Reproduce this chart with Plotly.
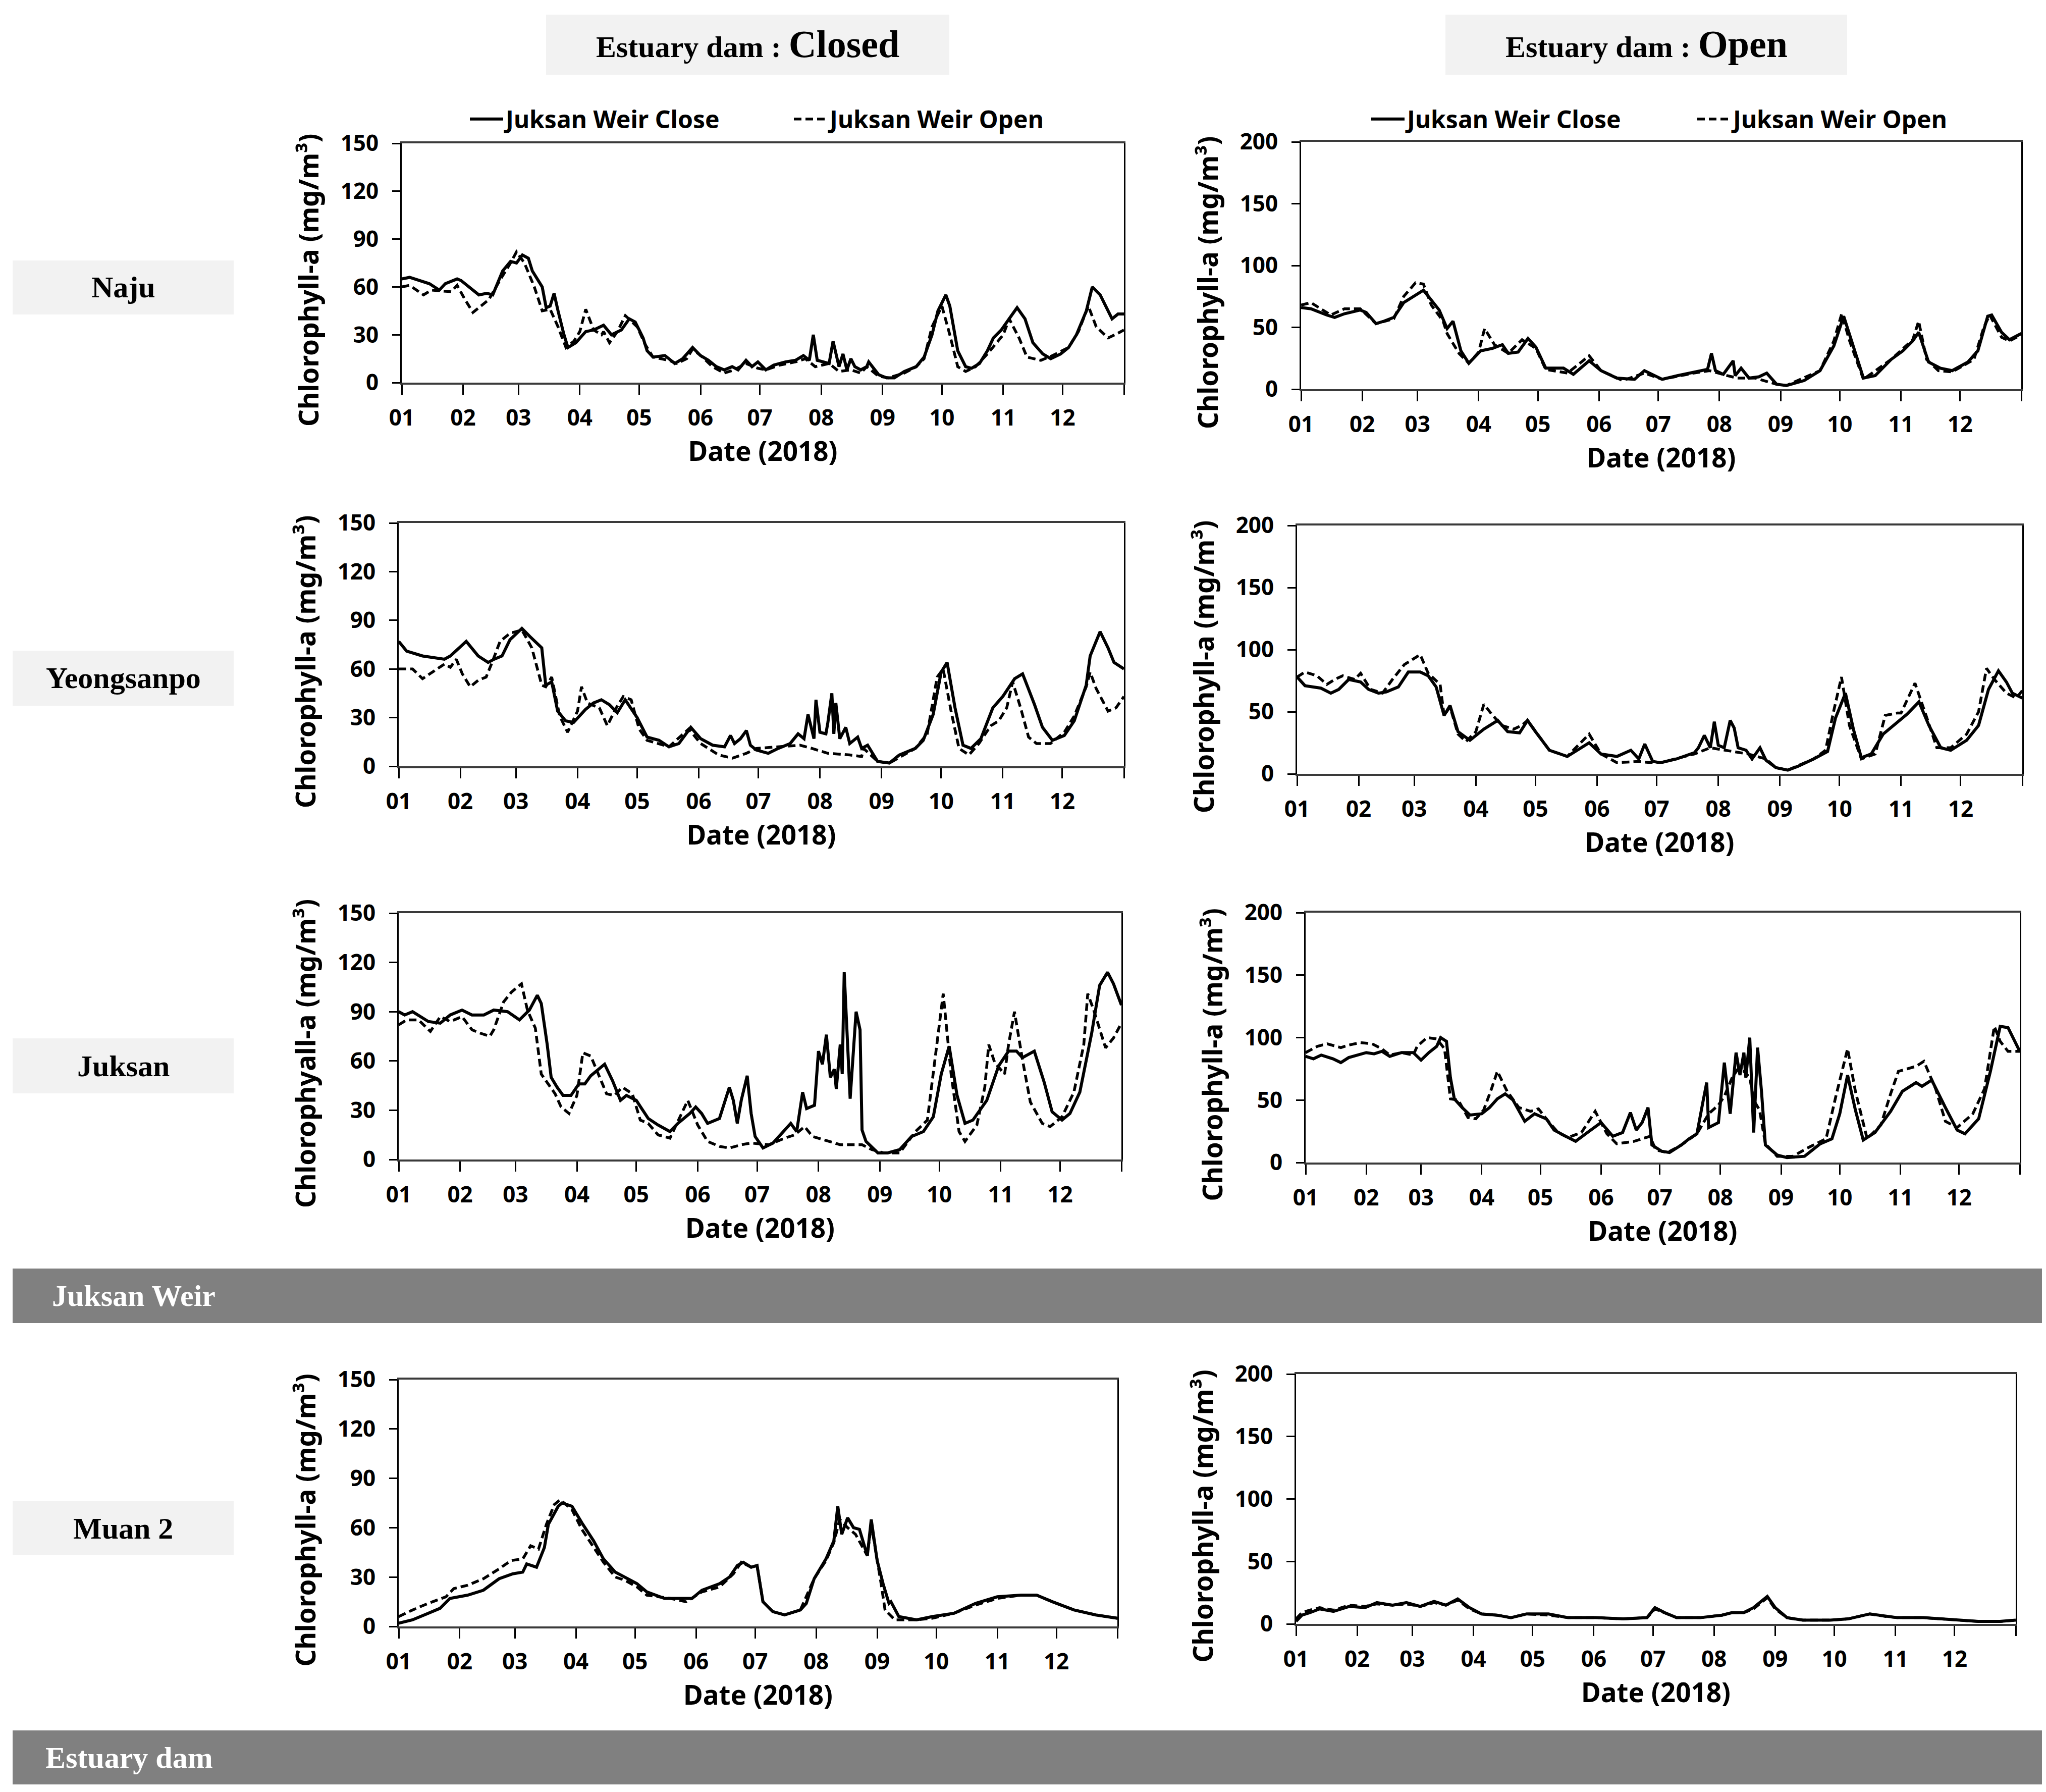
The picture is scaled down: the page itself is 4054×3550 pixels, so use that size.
import pandas as pd
import plotly.graph_objects as go

W, H = 4054, 3550

# ---------------- data (day of year 2018, chlorophyll-a mg/m3) ----------------
NAJU_DC_CLOSE_DAY = [0,4,14,19,22,28,30,39,43,46,51,55,58,61,64,66,71,73,75,77,79,82,84,88,93,97,102,106,111,115,118,122,124,127,133,135,138,142,147,151,155,159,163,167,170,174,177,180,184,188,194,199,203,206,208,210,216,218,221,223,225,227,229,232,235,236,241,245,249,254,260,264,268,271,275,277,281,285,288,292,296,299,303,307,311,315,319,324,328,333,337,341,346,349,353,357,359,362,365]
NAJU_DC_CLOSE_VAL = [65,66,62,58,62,65,64,55,56,55,70,76,75,80,78,70,60,47,48,56,45,30,22,25,32,33,36,30,33,40,38,28,20,16,17,15,12,15,22,17,14,10,8,10,8,14,10,13,8,11,13,14,17,14,30,14,12,26,10,18,8,15,10,8,10,13,5,3,3,7,10,16,30,45,55,48,20,10,9,12,20,28,33,40,47,40,25,18,15,18,22,30,45,60,55,45,40,43,43]
NAJU_DC_OPEN_DAY = [0,4,11,15,25,28,32,36,40,44,50,55,58,62,67,71,75,79,83,87,90,93,97,101,102,105,109,113,119,123,127,135,139,144,147,152,157,163,168,174,180,184,191,199,204,209,216,221,227,232,235,241,246,254,260,264,268,273,277,281,285,290,296,300,304,307,312,316,323,329,337,342,347,351,357,362,365]
NAJU_DC_OPEN_VAL = [60,61,55,58,57,61,52,44,48,52,65,75,82,75,60,45,46,35,22,26,32,46,33,30,32,25,32,42,35,24,16,14,12,15,21,16,10,6,8,12,9,8,11,13,15,10,12,7,8,6,10,4,3,6,10,15,35,48,30,10,7,10,18,24,30,40,28,16,14,17,22,32,48,35,28,31,33]

NAJU_DO_CLOSE_DAY = [0,5,13,17,22,30,33,38,42,47,52,58,62,65,70,74,77,81,85,91,97,102,105,110,115,119,124,133,138,146,152,160,169,174,183,191,199,206,208,210,214,219,220,223,227,232,236,241,246,255,263,270,275,280,285,291,299,305,310,313,318,324,330,338,343,348,350,355,359,365]
NAJU_DO_CLOSE_VAL = [66,65,60,58,61,64,62,53,55,58,70,76,80,74,64,49,55,31,21,31,33,36,29,30,41,34,17,17,12,23,15,9,8,15,8,11,14,16,29,15,12,23,11,17,9,10,13,4,3,7,15,35,59,33,9,11,24,31,39,46,22,17,15,22,31,59,60,46,40,45]
NAJU_DO_OPEN_DAY = [0,5,15,22,30,38,47,52,58,62,66,72,74,80,85,90,93,98,105,112,119,124,135,146,152,163,174,183,199,207,216,221,230,241,246,263,270,274,278,285,299,310,313,317,323,330,341,346,349,355,359,365]
NAJU_DO_OPEN_VAL = [68,70,60,65,65,53,57,75,86,85,68,55,45,29,21,30,49,36,29,40,33,16,13,27,15,7,13,8,13,15,11,9,9,4,3,15,39,61,39,8,24,40,55,24,15,14,24,50,60,42,39,44]

YSP_DC_CLOSE_DAY = [0,4,12,18,23,26,32,34,40,45,48,52,56,62,66,72,74,77,80,84,88,94,98,102,106,110,114,120,125,131,136,141,147,152,158,164,167,169,172,175,177,180,186,191,197,201,204,206,209,210,212,215,216,218,219,220,222,225,227,231,233,236,241,247,252,260,264,269,273,276,280,284,288,293,299,304,310,314,320,324,329,335,340,346,348,353,357,360,365]
YSP_DC_CLOSE_VAL = [77,71,68,67,66,68,75,77,68,64,66,68,78,85,80,73,50,52,34,28,27,35,39,41,38,33,41,30,18,16,12,14,24,17,13,12,19,14,17,22,13,10,8,11,14,20,17,32,17,41,21,20,27,45,20,39,17,24,14,18,11,13,3,2,7,11,16,32,58,64,36,13,11,17,36,43,54,57,38,24,16,19,28,50,68,83,73,64,60]
YSP_DC_OPEN_DAY = [0,7,12,18,23,26,29,32,36,40,44,47,51,56,62,67,72,74,77,81,85,90,92,95,101,105,109,113,117,121,125,136,146,152,161,168,175,180,191,202,208,216,227,233,234,241,247,260,266,271,274,278,282,287,292,298,302,306,309,313,317,321,328,335,340,346,348,351,357,361,365]
YSP_DC_OPEN_VAL = [60,60,54,59,63,61,66,57,49,53,55,64,77,82,84,73,50,49,55,31,21,34,49,39,36,25,35,43,41,23,16,12,23,14,7,5,8,11,12,13,11,8,7,6,11,3,2,11,20,55,60,34,11,7,14,25,28,36,52,36,18,14,14,21,31,49,58,48,34,36,43]

YSP_DO_CLOSE_DAY = [0,4,12,17,21,26,32,36,41,45,51,56,62,66,70,74,77,81,87,94,101,106,112,116,120,127,136,147,153,161,168,172,175,179,183,191,200,202,205,208,210,212,215,218,220,222,226,229,233,236,241,247,252,260,267,271,276,280,284,289,295,302,307,313,318,324,329,337,343,348,353,357,360,365]
YSP_DO_CLOSE_VAL = [78,71,69,65,68,76,74,68,65,66,70,82,82,79,70,47,55,34,27,36,43,34,33,43,34,19,14,25,16,14,19,12,24,10,9,12,17,21,31,21,42,23,21,43,37,21,19,12,21,11,5,3,6,12,18,45,65,36,13,16,32,41,48,58,39,21,19,27,39,68,83,74,65,61]
YSP_DO_OPEN_DAY = [0,4,10,15,19,23,29,32,37,43,48,54,62,66,72,74,77,81,85,90,94,98,103,109,113,116,121,127,136,147,153,161,172,178,183,200,208,216,227,236,241,247,260,266,270,274,278,284,291,296,302,304,311,317,322,329,337,343,347,351,357,362,365]
YSP_DO_OPEN_VAL = [78,82,79,72,76,79,76,81,68,65,76,88,96,81,72,47,54,32,26,34,56,48,39,36,39,43,32,19,14,32,16,9,10,9,9,16,21,19,16,12,5,3,12,19,50,78,39,12,16,47,49,49,73,45,21,21,32,50,85,76,65,61,67]

JUK_DC_CLOSE_DAY = [0,3,7,15,21,26,32,37,43,48,55,61,66,70,72,75,77,80,83,87,91,94,97,101,104,108,112,115,120,126,131,137,141,147,150,153,156,162,165,167,169,171,173,176,178,180,184,189,195,198,201,204,206,210,212,214,216,217,218,220,221,223,224,225,227,228,231,233,234,236,242,247,253,259,265,270,274,278,282,286,290,297,303,308,312,315,321,326,330,335,339,344,350,354,358,361,365]
JUK_DC_CLOSE_VAL = [90,88,90,84,83,88,91,88,88,91,90,85,91,100,95,70,50,44,39,39,46,46,51,55,58,48,36,39,36,25,21,17,22,28,32,28,22,25,36,44,36,22,36,51,28,14,7,10,18,22,17,41,31,33,66,58,76,61,50,55,43,70,52,114,63,37,90,79,18,11,4,4,6,14,17,26,52,69,39,22,24,36,57,66,66,62,66,47,29,24,28,41,77,106,114,107,94]
JUK_DC_OPEN_DAY = [0,4,10,16,21,26,32,37,41,46,48,53,57,62,65,69,72,75,79,82,86,90,93,97,101,105,109,113,118,122,126,131,137,142,146,151,156,162,167,173,178,187,195,200,205,209,217,223,228,234,239,245,253,261,267,271,275,279,283,286,292,296,298,301,306,308,311,315,319,325,329,335,341,346,348,351,357,361,365]
JUK_DC_OPEN_VAL = [82,85,85,78,87,84,87,79,77,75,79,96,102,107,91,80,52,47,40,32,28,39,65,63,52,40,39,44,40,24,22,15,13,26,36,21,11,8,7,9,10,9,13,15,20,14,11,9,9,9,6,4,4,17,24,63,101,52,17,11,21,44,70,59,52,70,90,61,35,22,20,26,41,70,101,91,68,74,83]

JUK_DO_CLOSE_DAY = [0,4,8,14,18,22,31,35,39,43,49,55,59,63,67,69,72,74,76,80,84,90,94,98,102,106,112,117,123,127,133,138,144,151,157,162,166,169,172,175,177,182,186,192,196,200,203,205,206,211,214,217,220,222,224,225,227,229,231,233,235,241,246,255,263,269,273,277,281,285,291,299,305,312,315,320,327,333,337,344,350,355,359,365]
JUK_DO_CLOSE_VAL = [85,83,86,83,80,84,88,87,89,85,88,88,82,88,93,100,97,68,51,44,38,39,44,51,55,50,33,39,35,26,21,17,24,32,21,24,40,26,32,44,14,9,8,14,19,23,48,64,28,32,80,39,88,70,88,68,100,24,92,57,14,6,4,5,15,19,39,70,42,18,24,41,57,64,61,66,44,26,23,35,73,109,108,89]
JUK_DO_OPEN_DAY = [0,6,11,18,22,28,34,39,43,49,55,57,62,67,71,74,78,83,87,91,95,98,103,109,115,119,123,129,134,141,148,154,159,168,176,179,185,192,200,206,211,214,218,221,224,227,229,232,235,241,249,257,266,271,277,281,287,294,299,303,312,316,322,327,333,341,347,352,355,359,365]
JUK_DO_OPEN_VAL = [88,93,95,92,94,96,95,91,86,88,86,93,100,99,91,51,50,36,35,42,59,73,57,44,41,43,35,24,20,24,41,23,15,17,21,10,8,14,23,39,46,53,68,75,73,68,50,42,15,5,5,12,19,53,91,57,19,30,55,73,77,81,59,33,28,39,59,109,97,89,89]

MUAN_DC_CLOSE_DAY = [0,7,15,21,26,35,43,51,58,63,65,70,74,76,81,83,88,93,99,104,110,115,121,126,135,143,149,154,163,168,172,175,179,182,185,190,196,204,207,211,217,221,223,225,228,231,234,238,240,243,246,249,250,254,263,271,282,293,304,316,324,332,343,354,365]
MUAN_DC_CLOSE_VAL = [2,4,8,11,17,19,22,29,32,33,38,36,48,62,73,75,73,63,52,41,33,30,26,21,17,17,17,22,26,30,37,39,36,37,15,9,7,10,14,29,41,52,73,56,66,60,59,43,65,40,26,14,15,6,4,6,8,14,18,19,19,15,10,7,5]
MUAN_DC_OPEN_DAY = [0,7,15,24,28,35,43,51,57,63,67,71,75,79,82,88,93,99,104,110,115,121,126,138,146,154,163,170,174,179,182,185,190,196,204,211,217,221,224,228,232,238,240,245,247,252,263,271,282,293,304,316,324,332,343,354,365]
MUAN_DC_OPEN_VAL = [6,10,14,18,23,25,29,35,40,41,49,47,62,74,77,71,59,48,39,30,28,24,19,17,15,21,24,32,39,36,37,15,9,7,10,29,40,51,65,60,56,43,62,26,10,4,4,5,8,13,17,19,19,15,10,7,5]

MUAN_DO_DAY = [0,3,7,12,19,27,35,41,49,56,63,70,76,82,88,94,102,109,117,128,138,152,166,178,182,187,193,205,216,221,227,232,239,243,249,257,271,280,291,299,305,318,327,338,346,357,365]
MUAN_DO_CLOSE_VAL = [2,7,9,12,10,14,13,17,15,17,14,18,15,20,13,8,7,5,8,8,5,5,4,5,13,9,5,5,7,9,9,13,22,13,5,3,3,4,8,6,5,5,4,3,2,2,3]
MUAN_DO_OPEN_VAL = [4,9,11,13,11,15,14,16,15,16,14,17,15,19,12,8,7,5,8,7,5,5,4,5,12,9,5,5,7,9,9,12,21,12,5,3,3,4,8,6,5,5,4,3,2,2,3]

MONTH_LABELS = ["01","02","03","04","05","06","07","08","09","10","11","12"]
MONTH_TICKS = [f"2018-{m:02d}-01" for m in range(1, 13)]
YEAR_END = ["2019-01-01"]
LEFT_YTICKS = [0, 30, 60, 90, 120, 150]
RIGHT_YTICKS = [0, 50, 100, 150, 200]
SERIES_NAMES = ["Juksan Weir Close", "Juksan Weir Open"]
COL_HEADERS = ["Closed", "Open"]
ROW_LABELS = ["Naju", "Yeongsanpo", "Juksan", "Muan 2"]
BAR_LABELS = ["Juksan Weir", "Estuary dam"]

YT = "Chlorophyll-a (mg/m³)"
YT_TYPO = "Chlorophyall-a (mg/m³)"

# panel: (close days, close vals, open days, open vals, x0, x1, y0, y1 [px], yticks, ytitle)
PANELS = [
    (NAJU_DC_CLOSE_DAY, NAJU_DC_CLOSE_VAL, NAJU_DC_OPEN_DAY, NAJU_DC_OPEN_VAL, 788, 2219, 276, 750, LEFT_YTICKS, YT),
    (NAJU_DO_CLOSE_DAY, NAJU_DO_CLOSE_VAL, NAJU_DO_OPEN_DAY, NAJU_DO_OPEN_VAL, 2570, 3997, 273, 763, RIGHT_YTICKS, YT),
    (YSP_DC_CLOSE_DAY, YSP_DC_CLOSE_VAL, YSP_DC_OPEN_DAY, YSP_DC_OPEN_VAL, 782, 2219, 1028, 1510, LEFT_YTICKS, YT),
    (YSP_DO_CLOSE_DAY, YSP_DO_CLOSE_VAL, YSP_DO_OPEN_DAY, YSP_DO_OPEN_VAL, 2562, 3999, 1033, 1525, RIGHT_YTICKS, YT),
    (JUK_DC_CLOSE_DAY, JUK_DC_CLOSE_VAL, JUK_DC_OPEN_DAY, JUK_DC_OPEN_VAL, 782, 2214, 1801, 2289, LEFT_YTICKS, YT_TYPO),
    (JUK_DO_CLOSE_DAY, JUK_DO_CLOSE_VAL, JUK_DO_OPEN_DAY, JUK_DO_OPEN_VAL, 2579, 3994, 1800, 2295, RIGHT_YTICKS, YT),
    (MUAN_DC_CLOSE_DAY, MUAN_DC_CLOSE_VAL, MUAN_DC_OPEN_DAY, MUAN_DC_OPEN_VAL, 782, 2206, 2725, 3214, LEFT_YTICKS, YT),
    (MUAN_DO_DAY, MUAN_DO_CLOSE_VAL, MUAN_DO_DAY, MUAN_DO_OPEN_VAL, 2560, 3986, 2714, 3209, RIGHT_YTICKS, YT),
]

START = pd.Timestamp("2018-01-01")


def to_dates(days):
    return [START + pd.Timedelta(days=d) for d in days]


SANS = "Noto Sans"
SERIF = "Liberation Serif"
TICKFONT = dict(family=SANS, size=44, color="black", weight="bold")
TITLEFONT = dict(family=SANS, size=53, color="black", weight="bold")

fig = go.Figure()
layout = {}
annotations = []

for i, (cd, cv, od, ov, x0, x1, y0, y1, yticks, ytitle) in enumerate(PANELS):
    n = i + 1
    xa = "x" if n == 1 else f"x{n}"
    ya = "y" if n == 1 else f"y{n}"
    is_legend_row = i < 2
    leg_close = "legend" if i == 0 else ("legend3" if i == 1 else "legend")
    leg_open = "legend2" if i == 0 else ("legend4" if i == 1 else "legend")
    fig.add_trace(go.Scatter(
        x=to_dates(cd), y=cv, mode="lines", name=SERIES_NAMES[0],
        line=dict(color="black", width=6),
        xaxis=xa, yaxis=ya, showlegend=is_legend_row, legend=leg_close,
    ))
    fig.add_trace(go.Scatter(
        x=to_dates(od), y=ov, mode="lines", name=SERIES_NAMES[1],
        line=dict(color="black", width=5.5, dash="15px,8px"),
        xaxis=xa, yaxis=ya, showlegend=is_legend_row, legend=leg_open,
    ))
    layout["xaxis" if n == 1 else f"xaxis{n}"] = dict(
        domain=[x0 / W, x1 / W], anchor=ya, type="date",
        range=["2018-01-01", "2019-01-01"],
        tickmode="array", tickvals=MONTH_TICKS, ticktext=MONTH_LABELS,
        ticks="outside", ticklen=20, tickwidth=3, tickcolor="black",
        minor=dict(tickmode="array", tickvals=YEAR_END, ticks="outside",
                   ticklen=20, tickwidth=3, tickcolor="black", showgrid=False),
        showline=True, linecolor="#3a3a3a", linewidth=4, mirror=True,
        showgrid=False, zeroline=False, tickfont=TICKFONT,
        ticklabelstandoff=8,
        title=dict(text="Date (2018)", font=TITLEFONT, standoff=22),
    )
    layout["yaxis" if n == 1 else f"yaxis{n}"] = dict(
        domain=[1 - y1 / H, 1 - y0 / H], anchor=xa,
        range=[0, yticks[-1]], tickmode="array", tickvals=yticks,
        ticks="outside", ticklen=16, tickwidth=3, tickcolor="black",
        showline=True, linecolor="black", linewidth=3, mirror=True,
        showgrid=False, zeroline=False, tickfont=TICKFONT,
        ticklabelstandoff=18,
    )
    # y-axis title, placed like the reference (slightly below the plot centre)
    annotations.append(dict(
        xref="paper", yref="paper", x=(x0 - 186) / W,
        y=1 - ((y0 + y1) / 2 + 34) / H,
        xanchor="center", yanchor="middle", showarrow=False, textangle=-90,
        text=ytitle, font=TITLEFONT,
    ))

LEG_FONT = dict(family=SANS, size=48, color="black", weight="bold")
legend_pos = {"legend": 918, "legend2": 1560, "legend3": 2704, "legend4": 3350}
for key, px in legend_pos.items():
    layout[key] = dict(
        x=px / W, y=1 - 228 / H, xanchor="left", yanchor="middle",
        orientation="h", font=LEG_FONT, itemwidth=66,
        bgcolor="rgba(0,0,0,0)", borderwidth=0, traceorder="normal",
    )

shapes = []

# column header boxes
for (bx0, bx1), word in zip([(1074, 1873), (2856, 3652)], COL_HEADERS):
    shapes.append(dict(type="rect", xref="paper", yref="paper",
                       x0=bx0 / W, x1=bx1 / W, y0=1 - 140 / H, y1=1 - 21 / H,
                       fillcolor="#f2f2f2", line=dict(width=0), layer="below"))
    annotations.append(dict(
        xref="paper", yref="paper", x=(bx0 + bx1) / 2 / W, y=1 - 79 / H,
        xanchor="center", yanchor="middle", showarrow=False,
        text=f"<b>Estuary dam : <span style='font-size:76px'>{word}</span></b>",
        font=dict(family=SERIF, size=60, color="black"),
    ))

# row label boxes
for (ry0, ry1), lab in zip([(508, 615), (1281, 1390), (2049, 2158), (2966, 3073)], ROW_LABELS):
    shapes.append(dict(type="rect", xref="paper", yref="paper",
                       x0=17 / W, x1=455 / W, y0=1 - ry1 / H, y1=1 - ry0 / H,
                       fillcolor="#f2f2f2", line=dict(width=0), layer="below"))
    annotations.append(dict(
        xref="paper", yref="paper", x=236 / W, y=1 - (ry0 + ry1) / 2 / H,
        xanchor="center", yanchor="middle", showarrow=False,
        text=f"<b>{lab}</b>", font=dict(family=SERIF, size=60, color="black"),
    ))

# dark grey section bars
for (gy0, gy1), lab, tx in zip([(2505, 2613), (3420, 3527)], BAR_LABELS, [93, 80]):
    shapes.append(dict(type="rect", xref="paper", yref="paper",
                       x0=17 / W, x1=4046 / W, y0=1 - gy1 / H, y1=1 - gy0 / H,
                       fillcolor="#808080", line=dict(width=0), layer="below"))
    annotations.append(dict(
        xref="paper", yref="paper", x=tx / W, y=1 - (gy0 + gy1) / 2 / H,
        xanchor="left", yanchor="middle", showarrow=False,
        text=f"<b>{lab}</b>", font=dict(family=SERIF, size=60, color="white"),
    ))

layout.update(dict(
    width=W, height=H, autosize=False,
    margin=dict(l=0, r=0, t=0, b=0, pad=0),
    paper_bgcolor="white", plot_bgcolor="white",
    template="none",
    shapes=shapes, annotations=annotations,
))
fig.update_layout(**layout)
fig.write_html("out.html")
